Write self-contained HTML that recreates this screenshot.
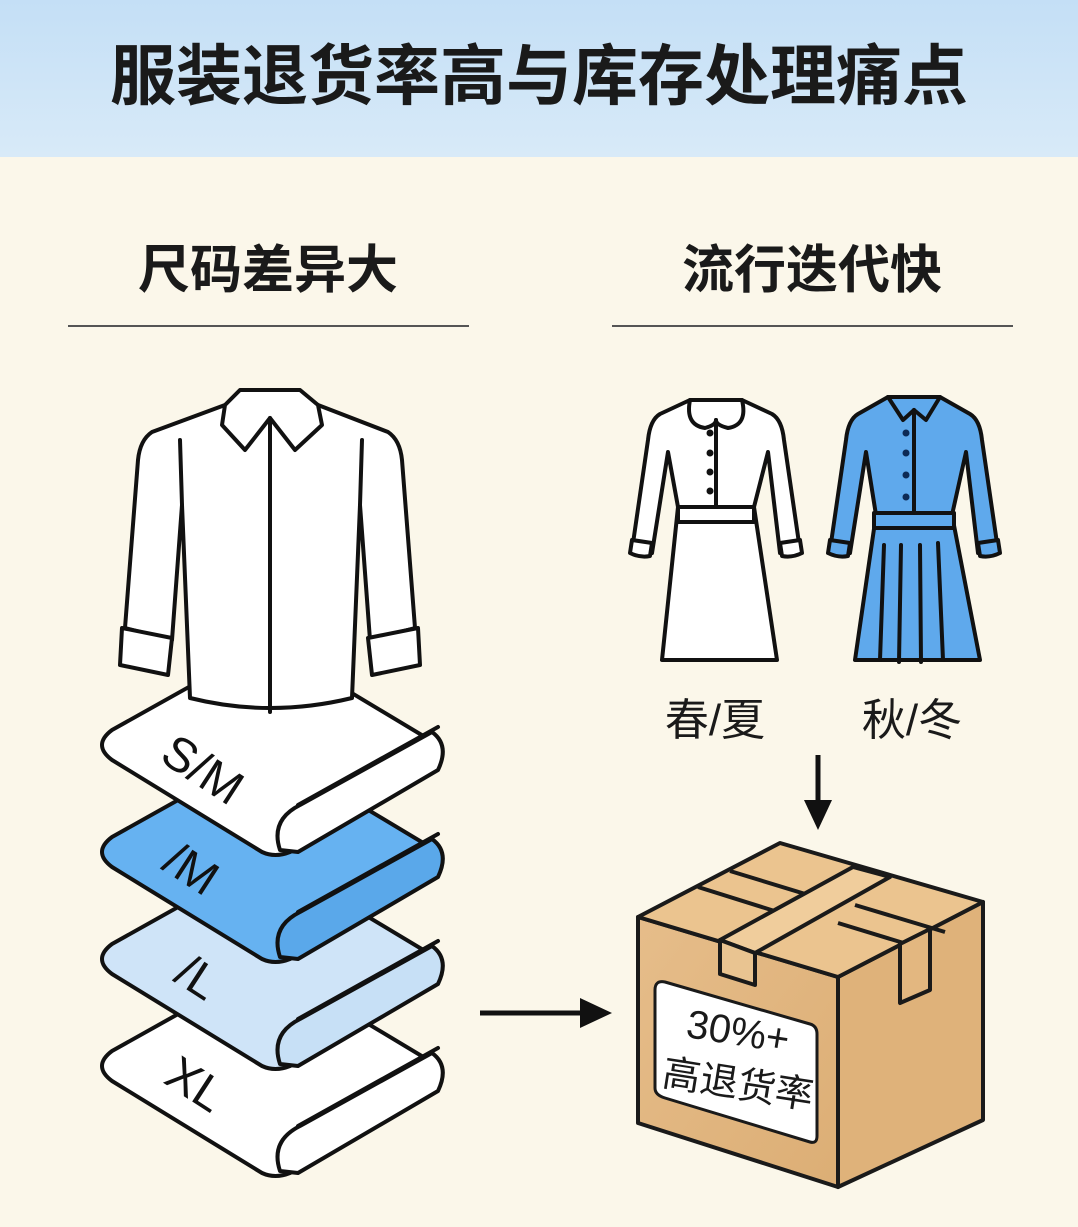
<!DOCTYPE html>
<html><head><meta charset="utf-8"><style>
html,body{margin:0;padding:0}
body{width:1078px;height:1227px;background:#fbf7ea;font-family:"Liberation Sans","Noto Sans CJK SC",sans-serif;overflow:hidden}
</style></head><body>
<svg width="1078" height="1227" viewBox="0 0 1078 1227" xmlns="http://www.w3.org/2000/svg" style="position:absolute;left:0;top:0">
<defs>
<linearGradient id="hd" x1="0" y1="0" x2="0" y2="1"><stop offset="0" stop-color="#c4dff6"/><stop offset="1" stop-color="#d8eaf8"/></linearGradient>
<linearGradient id="bx" x1="0" y1="0" x2="1" y2="1"><stop offset="0" stop-color="#e6bd8a"/><stop offset="1" stop-color="#dcae75"/></linearGradient>
</defs>
<rect x="0" y="0" width="1078" height="157" fill="url(#hd)"/>
<text x="539" y="99" text-anchor="middle" font-size="66" font-weight="bold" fill="#1a1a1a" font-family="Liberation Sans, Noto Sans CJK SC, sans-serif">服装退货率高与库存处理痛点</text>
<text x="268" y="288" text-anchor="middle" font-size="52" font-weight="bold" fill="#1a1a1a" font-family="Liberation Sans, Noto Sans CJK SC, sans-serif">尺码差异大</text>
<text x="812" y="288" text-anchor="middle" font-size="52" font-weight="bold" fill="#1a1a1a" font-family="Liberation Sans, Noto Sans CJK SC, sans-serif">流行迭代快</text>
<line x1="68" y1="326" x2="469" y2="326" stroke="#555" stroke-width="2"/>
<line x1="612" y1="326" x2="1013" y2="326" stroke="#555" stroke-width="2"/>

<g stroke="#111" stroke-width="4" stroke-linejoin="round" stroke-linecap="round">
<g transform="translate(0,321)">
 <path d="M112,730 Q92,745 112,760 L262,852 Q275,858 290,852 L430,770 Q448,755 430,740 L280,650 Q268,643 255,650 Z" fill="#fff"/>
 <path d="M280,850 Q270,820 300,805 L432,732 Q450,745 438,770 L298,852 Z" fill="#fff"/>
 <line x1="298" y1="805" x2="438" y2="727"/>
</g>
<g transform="translate(0,214)">
 <path d="M112,730 Q92,745 112,760 L262,852 Q275,858 290,852 L430,770 Q448,755 430,740 L280,650 Q268,643 255,650 Z" fill="#cfe4f8"/>
 <path d="M280,850 Q270,820 300,805 L432,732 Q450,745 438,770 L298,852 Z" fill="#c7e0f6"/>
 <line x1="298" y1="805" x2="438" y2="727"/>
</g>
<g transform="translate(0,107)">
 <path d="M112,730 Q92,745 112,760 L262,852 Q275,858 290,852 L430,770 Q448,755 430,740 L280,650 Q268,643 255,650 Z" fill="#66b2f1"/>
 <path d="M280,850 Q270,820 300,805 L432,732 Q450,745 438,770 L298,852 Z" fill="#5aa8ea"/>
 <line x1="298" y1="805" x2="438" y2="727"/>
</g>
<g>
 <path d="M112,730 Q92,745 112,760 L262,852 Q275,858 290,852 L430,770 Q448,755 430,740 L280,650 Q268,643 255,650 Z" fill="#fff"/>
 <path d="M280,850 Q270,820 300,805 L432,732 Q450,745 438,770 L298,852 Z" fill="#fff"/>
 <line x1="298" y1="805" x2="438" y2="727"/>
</g>
<path d="M225,405 L152,432 Q140,440 138,460 L125,628 L172,640 L182,505 L190,698 Q270,718 352,698 L360,505 L370,640 L415,628 L402,460 Q400,440 388,432 L318,405 Z" fill="#fff"/>
<path d="M122,628 L120,665 L168,675 L172,638 Z" fill="#fff"/>
<path d="M418,628 L420,665 L372,675 L368,638 Z" fill="#fff"/>
<path d="M240,390 L300,390 L318,405 L322,425 L295,450 L270,418 L245,450 L222,425 L225,405 Z" fill="#fff"/>
<line x1="270" y1="418" x2="270" y2="712"/>
<line x1="182" y1="505" x2="180" y2="440"/>
<line x1="360" y1="505" x2="362" y2="440"/>

<g>
<path d="M690,400 L660,414 Q650,420 648,440 L632,550 L652,553 L668,452 L678,507 L662,660 L777,660 L754,507 L768,452 L780,553 L800,550 L784,440 Q782,420 772,414 L742,400 Z" fill="#fff"/>
<path d="M632,540 L630,553 Q640,558 650,556 L652,543 Z" fill="#fff"/>
<path d="M800,540 L802,553 Q792,558 782,556 L780,543 Z" fill="#fff"/>
<rect x="678" y="507" width="76" height="15" fill="#fff"/>
<path d="M690,400 Q685,425 705,428 Q716,425 716,420 Q716,425 728,428 Q748,425 742,400 Z" fill="#fff"/>
<line x1="716" y1="420" x2="716" y2="507"/>
</g>
<g fill="#111" stroke="none"><circle cx="710" cy="433" r="3.5"/><circle cx="710" cy="453" r="3.5"/><circle cx="710" cy="472" r="3.5"/><circle cx="710" cy="491" r="3.5"/></g>

<g transform="translate(198,0)">
<path d="M690,397 L660,414 Q650,420 648,440 L632,550 L652,553 L668,452 L678,515 L657,660 L782,660 L754,515 L768,452 L780,553 L800,550 L784,440 Q782,420 772,414 L742,397 Z" fill="#5fa9ec"/>
<path d="M632,540 L630,553 Q640,558 650,556 L652,543 Z" fill="#5fa9ec"/>
<path d="M800,540 L802,553 Q792,558 782,556 L780,543 Z" fill="#5fa9ec"/>
<rect x="676" y="513" width="80" height="15" fill="#5fa9ec"/>
<path d="M690,397 L705,420 L716,410 L728,420 L742,397 Z" fill="#5fa9ec"/>
<line x1="716" y1="410" x2="716" y2="513"/>
<line x1="686" y1="545" x2="682" y2="660"/><line x1="703" y1="545" x2="701" y2="662"/><line x1="722" y1="545" x2="723" y2="662"/><line x1="740" y1="543" x2="745" y2="660"/>
</g>
</g>
<g fill="#0d2a55"><circle cx="906" cy="433" r="3.5"/><circle cx="906" cy="453" r="3.5"/><circle cx="906" cy="475" r="3.5"/><circle cx="906" cy="497" r="3.5"/></g>

<text x="715" y="735" text-anchor="middle" font-size="44" fill="#1a1a1a" font-family="Liberation Sans, Noto Sans CJK SC, sans-serif">春/夏</text>
<text x="912" y="735" text-anchor="middle" font-size="44" fill="#1a1a1a" font-family="Liberation Sans, Noto Sans CJK SC, sans-serif">秋/冬</text>

<line x1="818" y1="755" x2="818" y2="808" stroke="#111" stroke-width="5"/>
<polygon points="804,800 832,800 818,830" fill="#111"/>
<line x1="480" y1="1013" x2="585" y2="1013" stroke="#111" stroke-width="5"/>
<polygon points="580,998 580,1028 612,1013" fill="#111"/>

<g font-size="48" fill="#111" font-family="Liberation Sans, sans-serif">
<text x="158" y="760" transform="rotate(33 158 760)">S/M</text>
<text x="160" y="868" transform="rotate(33 160 868)">/M</text>
<text x="172" y="980" transform="rotate(33 172 980)">/L</text>
<text x="162" y="1082" transform="rotate(33 162 1082)">XL</text>
</g>

<g stroke="#1a1a1a" stroke-width="4" stroke-linejoin="round">
<polygon points="638,917 838,977 838,1187 638,1123" fill="url(#bx)"/>
<polygon points="838,977 983,902 983,1120 838,1187" fill="#dfb27a"/>
<polygon points="638,917 780,843 983,902 838,977" fill="#ebc48f"/>
<line x1="698" y1="887" x2="800" y2="919"/><line x1="730" y1="871" x2="815" y2="897"/>
<line x1="838" y1="923" x2="920" y2="948"/><line x1="855" y1="905" x2="945" y2="932"/>
<polygon points="720,940 853,867 890,877 755,953" fill="#f0cd9c"/>
<polygon points="720,940 755,953 755,985 720,974" fill="#e9c491"/>
<polygon points="900,944 930,929 930,990 900,1003" fill="#e3b780"/>
<path d="M665,982 L810,1024 Q817,1026 817,1034 L817,1136 Q817,1144 810,1142 L665,1098 Q655,1095 655,1088 L655,990 Q655,980 665,982 Z" fill="#fff" stroke-width="3"/>
</g>
<g font-family="Liberation Sans, Noto Sans CJK SC, sans-serif" fill="#1a1a1a" text-anchor="middle">
<text x="736" y="1045" font-size="40" transform="rotate(9 736 1045)">30%+</text>
<text x="736" y="1097" font-size="38" transform="rotate(9 736 1097)">高退货率</text>
</g>
</svg>
</body></html>
